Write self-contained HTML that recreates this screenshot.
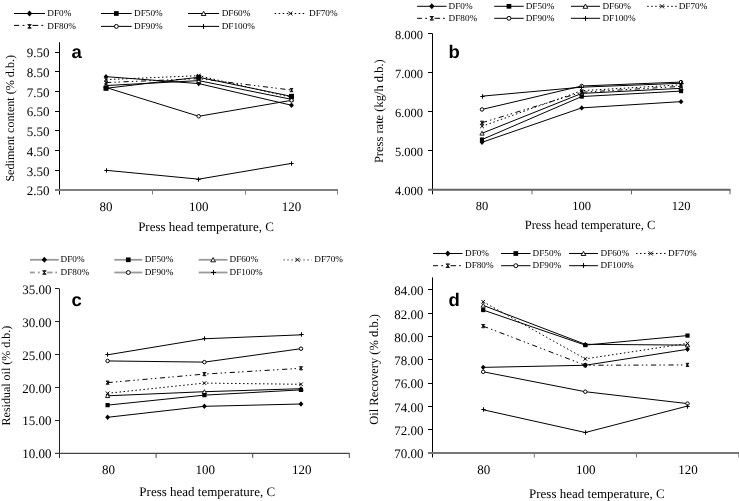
<!DOCTYPE html>
<html><head><meta charset="utf-8"><style>
html,body{margin:0;padding:0;background:#fff;overflow:hidden;}
svg{display:block;will-change:transform;} text{text-rendering:geometricPrecision;}
</style></head><body>
<svg width="739" height="501" viewBox="0 0 739 501">
<rect width="739" height="501" fill="#fff"/>
<line x1="59.50" y1="42.20" x2="59.50" y2="194.50" stroke="#000" stroke-width="1"/>
<line x1="55.00" y1="190.00" x2="338.00" y2="190.00" stroke="#808080" stroke-width="2"/>
<line x1="152.50" y1="190.00" x2="152.50" y2="194.50" stroke="#808080" stroke-width="1"/>
<line x1="245.50" y1="190.00" x2="245.50" y2="194.50" stroke="#808080" stroke-width="1"/>
<line x1="337.50" y1="190.00" x2="337.50" y2="194.50" stroke="#808080" stroke-width="1"/>
<text transform="translate(49.50,195.30) scale(1,1.0)" style="font-family:'Liberation Serif',serif;font-size:13px;font-weight:normal" text-anchor="end" fill="#000">2.50</text>
<line x1="55.00" y1="170.50" x2="59.50" y2="170.50" stroke="#000" stroke-width="1"/>
<text transform="translate(49.50,175.59) scale(1,1.0)" style="font-family:'Liberation Serif',serif;font-size:13px;font-weight:normal" text-anchor="end" fill="#000">3.50</text>
<line x1="55.00" y1="150.50" x2="59.50" y2="150.50" stroke="#000" stroke-width="1"/>
<text transform="translate(49.50,155.88) scale(1,1.0)" style="font-family:'Liberation Serif',serif;font-size:13px;font-weight:normal" text-anchor="end" fill="#000">4.50</text>
<line x1="55.00" y1="130.50" x2="59.50" y2="130.50" stroke="#000" stroke-width="1"/>
<text transform="translate(49.50,136.17) scale(1,1.0)" style="font-family:'Liberation Serif',serif;font-size:13px;font-weight:normal" text-anchor="end" fill="#000">5.50</text>
<line x1="55.00" y1="111.50" x2="59.50" y2="111.50" stroke="#000" stroke-width="1"/>
<text transform="translate(49.50,116.46) scale(1,1.0)" style="font-family:'Liberation Serif',serif;font-size:13px;font-weight:normal" text-anchor="end" fill="#000">6.50</text>
<line x1="55.00" y1="91.50" x2="59.50" y2="91.50" stroke="#000" stroke-width="1"/>
<text transform="translate(49.50,96.75) scale(1,1.0)" style="font-family:'Liberation Serif',serif;font-size:13px;font-weight:normal" text-anchor="end" fill="#000">7.50</text>
<line x1="55.00" y1="71.50" x2="59.50" y2="71.50" stroke="#000" stroke-width="1"/>
<text transform="translate(49.50,77.04) scale(1,1.0)" style="font-family:'Liberation Serif',serif;font-size:13px;font-weight:normal" text-anchor="end" fill="#000">8.50</text>
<line x1="55.00" y1="52.50" x2="59.50" y2="52.50" stroke="#000" stroke-width="1"/>
<text transform="translate(49.50,57.33) scale(1,1.0)" style="font-family:'Liberation Serif',serif;font-size:13px;font-weight:normal" text-anchor="end" fill="#000">9.50</text>
<text transform="translate(106.00,210.80) scale(1,1.0)" style="font-family:'Liberation Serif',serif;font-size:13px;font-weight:normal" text-anchor="middle" fill="#000">80</text>
<text transform="translate(198.70,210.80) scale(1,1.0)" style="font-family:'Liberation Serif',serif;font-size:13px;font-weight:normal" text-anchor="middle" fill="#000">100</text>
<text transform="translate(291.50,210.80) scale(1,1.0)" style="font-family:'Liberation Serif',serif;font-size:13px;font-weight:normal" text-anchor="middle" fill="#000">120</text>
<text transform="translate(206.00,231.00) scale(1,1.0)" style="font-family:'Liberation Serif',serif;font-size:13px;font-weight:normal" text-anchor="middle" fill="#000">Press head temperature, C</text>
<text transform="translate(13.80,118.30) scale(1,1.0) rotate(-90)" style="font-family:'Liberation Serif',serif;font-size:12.1px;font-weight:normal" text-anchor="middle" fill="#000">Sediment content (% d.b.)</text>
<text transform="translate(71.50,57.80) scale(1,0.98)" style="font-family:'Liberation Sans',sans-serif;font-size:18.5px;font-weight:bold" text-anchor="start" fill="#000">a</text>
<polyline points="106.00,76.67 198.70,83.57 291.50,105.25" fill="none" stroke="#000" stroke-width="1"/>
<polyline points="106.00,88.30 198.70,77.26 291.50,96.38" fill="none" stroke="#000" stroke-width="1"/>
<polyline points="106.00,85.54 198.70,80.61 291.50,99.33" fill="none" stroke="#000" stroke-width="1"/>
<polyline points="106.00,79.62 198.70,75.68 291.50,97.36" fill="none" stroke="#000" stroke-width="1" stroke-dasharray="1.5,2.5"/>
<polyline points="106.00,82.58 198.70,78.64 291.50,90.07" fill="none" stroke="#000" stroke-width="1" stroke-dasharray="5.2,3.2,1.4,2.7,1.4,3.6"/>
<polyline points="106.00,87.51 198.70,116.28 291.50,100.32" fill="none" stroke="#000" stroke-width="1"/>
<polyline points="106.00,170.29 198.70,179.16 291.50,163.39" fill="none" stroke="#000" stroke-width="1"/>
<path d="M106.00,73.97 L108.40,76.67 L106.00,79.37 L103.60,76.67 Z" fill="#000"/>
<path d="M198.70,80.87 L201.10,83.57 L198.70,86.27 L196.30,83.57 Z" fill="#000"/>
<path d="M291.50,102.55 L293.90,105.25 L291.50,107.95 L289.10,105.25 Z" fill="#000"/>
<path d="M106.00,83.54 L108.10,87.34 L103.90,87.34 Z" fill="#fff" stroke="#000" stroke-width="0.9"/>
<path d="M198.70,78.61 L200.80,82.41 L196.60,82.41 Z" fill="#fff" stroke="#000" stroke-width="0.9"/>
<path d="M291.50,97.33 L293.60,101.13 L289.40,101.13 Z" fill="#fff" stroke="#000" stroke-width="0.9"/>
<path d="M104.20,77.82 L107.80,81.42 M107.80,77.82 L104.20,81.42" stroke="#000" stroke-width="1" fill="none"/>
<path d="M196.90,73.88 L200.50,77.48 M200.50,73.88 L196.90,77.48" stroke="#000" stroke-width="1" fill="none"/>
<path d="M289.70,95.56 L293.30,99.16 M293.30,95.56 L289.70,99.16" stroke="#000" stroke-width="1" fill="none"/>
<path d="M104.40,80.98 L107.60,84.18 M107.60,80.98 L104.40,84.18 M106.00,80.98 L106.00,84.18 M104.40,80.98 L107.60,80.98 M104.40,84.18 L107.60,84.18" stroke="#000" stroke-width="0.9" fill="none"/>
<path d="M197.10,77.04 L200.30,80.24 M200.30,77.04 L197.10,80.24 M198.70,77.04 L198.70,80.24 M197.10,77.04 L200.30,77.04 M197.10,80.24 L200.30,80.24" stroke="#000" stroke-width="0.9" fill="none"/>
<path d="M289.90,88.47 L293.10,91.67 M293.10,88.47 L289.90,91.67 M291.50,88.47 L291.50,91.67 M289.90,88.47 L293.10,88.47 M289.90,91.67 L293.10,91.67" stroke="#000" stroke-width="0.9" fill="none"/>
<circle cx="106.00" cy="87.51" r="1.75" fill="#fff" stroke="#000" stroke-width="1"/>
<circle cx="198.70" cy="116.28" r="1.75" fill="#fff" stroke="#000" stroke-width="1"/>
<circle cx="291.50" cy="100.32" r="1.75" fill="#fff" stroke="#000" stroke-width="1"/>
<path d="M104.30,170.50 L108.70,170.50 M106.50,168.30 L106.50,172.70" stroke="#000" stroke-width="1" fill="none"/>
<path d="M196.30,179.50 L200.70,179.50 M198.50,177.30 L198.50,181.70" stroke="#000" stroke-width="1" fill="none"/>
<path d="M289.30,163.50 L293.70,163.50 M291.50,161.30 L291.50,165.70" stroke="#000" stroke-width="1" fill="none"/>
<rect x="103.48" y="85.78" width="5.04" height="5.04" fill="#000"/>
<rect x="196.18" y="74.74" width="5.04" height="5.04" fill="#000"/>
<rect x="288.98" y="93.86" width="5.04" height="5.04" fill="#000"/>
<line x1="14.00" y1="13.50" x2="45.00" y2="13.50" stroke="#000" stroke-width="1"/>
<path d="M29.50,10.48 L32.19,13.50 L29.50,16.52 L26.81,13.50 Z" fill="#000"/>
<text transform="translate(47.30,16.00) scale(1,1.0)" style="font-family:'Liberation Serif',serif;font-size:9.2px;font-weight:normal" text-anchor="start" fill="#000">DF0%</text>
<line x1="101.00" y1="13.50" x2="131.70" y2="13.50" stroke="#000" stroke-width="1"/>
<rect x="114.00" y="11.15" width="4.70" height="4.70" fill="#000"/>
<text transform="translate(134.10,16.00) scale(1,1.0)" style="font-family:'Liberation Serif',serif;font-size:9.2px;font-weight:normal" text-anchor="start" fill="#000">DF50%</text>
<line x1="188.10" y1="13.50" x2="219.10" y2="13.50" stroke="#000" stroke-width="1"/>
<path d="M203.60,11.26 L205.95,15.52 L201.25,15.52 Z" fill="#fff" stroke="#000" stroke-width="0.9"/>
<text transform="translate(221.70,16.00) scale(1,1.0)" style="font-family:'Liberation Serif',serif;font-size:9.2px;font-weight:normal" text-anchor="start" fill="#000">DF60%</text>
<line x1="274.70" y1="13.50" x2="305.90" y2="13.50" stroke="#000" stroke-width="1" stroke-dasharray="1.5,2.5"/>
<path d="M288.28,11.48 L292.32,15.52 M292.32,11.48 L288.28,15.52" stroke="#000" stroke-width="1" fill="none"/>
<text transform="translate(309.00,16.00) scale(1,1.0)" style="font-family:'Liberation Serif',serif;font-size:9.2px;font-weight:normal" text-anchor="start" fill="#000">DF70%</text>
<line x1="14.00" y1="25.40" x2="19.12" y2="25.40" stroke="#000" stroke-width="1"/>
<line x1="22.59" y1="25.40" x2="24.51" y2="25.40" stroke="#000" stroke-width="1"/>
<line x1="32.41" y1="25.40" x2="38.30" y2="25.40" stroke="#000" stroke-width="1"/>
<line x1="41.31" y1="25.40" x2="43.20" y2="25.40" stroke="#000" stroke-width="1"/>
<path d="M27.71,24.61 L31.29,28.19 M31.29,24.61 L27.71,28.19 M29.50,24.61 L29.50,28.19 M27.71,24.61 L31.29,24.61 M27.71,28.19 L31.29,28.19" stroke="#000" stroke-width="0.9" fill="none"/>
<text transform="translate(47.30,28.90) scale(1,1.0)" style="font-family:'Liberation Serif',serif;font-size:9.2px;font-weight:normal" text-anchor="start" fill="#000">DF80%</text>
<line x1="101.00" y1="26.40" x2="131.70" y2="26.40" stroke="#000" stroke-width="1"/>
<circle cx="116.35" cy="26.40" r="1.96" fill="#fff" stroke="#000" stroke-width="1"/>
<text transform="translate(134.10,28.90) scale(1,1.0)" style="font-family:'Liberation Serif',serif;font-size:9.2px;font-weight:normal" text-anchor="start" fill="#000">DF90%</text>
<line x1="188.10" y1="26.40" x2="219.10" y2="26.40" stroke="#000" stroke-width="1"/>
<path d="M201.04,26.50 L205.96,26.50 M203.50,24.04 L203.50,28.96" stroke="#000" stroke-width="1" fill="none"/>
<text transform="translate(221.70,28.90) scale(1,1.0)" style="font-family:'Liberation Serif',serif;font-size:9.2px;font-weight:normal" text-anchor="start" fill="#000">DF100%</text>
<line x1="432.50" y1="33.50" x2="432.50" y2="194.30" stroke="#000" stroke-width="1"/>
<line x1="428.00" y1="189.80" x2="730.50" y2="189.80" stroke="#666" stroke-width="2"/>
<line x1="532.00" y1="189.80" x2="532.00" y2="194.30" stroke="#666" stroke-width="1"/>
<line x1="631.50" y1="189.80" x2="631.50" y2="194.30" stroke="#666" stroke-width="1"/>
<line x1="730.00" y1="189.80" x2="730.00" y2="194.30" stroke="#666" stroke-width="1"/>
<text transform="translate(423.00,195.30) scale(1,1.0)" style="font-family:'Liberation Serif',serif;font-size:12.5px;font-weight:normal" text-anchor="end" fill="#000">4.000</text>
<line x1="428.00" y1="150.50" x2="432.50" y2="150.50" stroke="#000" stroke-width="1"/>
<text transform="translate(423.00,156.20) scale(1,1.0)" style="font-family:'Liberation Serif',serif;font-size:12.5px;font-weight:normal" text-anchor="end" fill="#000">5.000</text>
<line x1="428.00" y1="111.50" x2="432.50" y2="111.50" stroke="#000" stroke-width="1"/>
<text transform="translate(423.00,117.10) scale(1,1.0)" style="font-family:'Liberation Serif',serif;font-size:12.5px;font-weight:normal" text-anchor="end" fill="#000">6.000</text>
<line x1="428.00" y1="72.50" x2="432.50" y2="72.50" stroke="#000" stroke-width="1"/>
<text transform="translate(423.00,78.00) scale(1,1.0)" style="font-family:'Liberation Serif',serif;font-size:12.5px;font-weight:normal" text-anchor="end" fill="#000">7.000</text>
<line x1="428.00" y1="33.50" x2="432.50" y2="33.50" stroke="#000" stroke-width="1"/>
<text transform="translate(423.00,38.90) scale(1,1.0)" style="font-family:'Liberation Serif',serif;font-size:12.5px;font-weight:normal" text-anchor="end" fill="#000">8.000</text>
<text transform="translate(482.00,209.70) scale(1,1.0)" style="font-family:'Liberation Serif',serif;font-size:12.5px;font-weight:normal" text-anchor="middle" fill="#000">80</text>
<text transform="translate(581.70,209.70) scale(1,1.0)" style="font-family:'Liberation Serif',serif;font-size:12.5px;font-weight:normal" text-anchor="middle" fill="#000">100</text>
<text transform="translate(681.00,209.70) scale(1,1.0)" style="font-family:'Liberation Serif',serif;font-size:12.5px;font-weight:normal" text-anchor="middle" fill="#000">120</text>
<text transform="translate(590.00,229.00) scale(1,1.0)" style="font-family:'Liberation Serif',serif;font-size:12.5px;font-weight:normal" text-anchor="middle" fill="#000">Press head temperature, C</text>
<text transform="translate(383.20,111.20) scale(1,1.0) rotate(-90)" style="font-family:'Liberation Serif',serif;font-size:12.5px;font-weight:normal" text-anchor="middle" fill="#000">Press rate (kg/h d.b.)</text>
<text transform="translate(448.50,57.80) scale(1,0.98)" style="font-family:'Liberation Sans',sans-serif;font-size:18.5px;font-weight:bold" text-anchor="start" fill="#000">b</text>
<polyline points="482.00,142.30 581.70,107.89 681.00,101.63" fill="none" stroke="#000" stroke-width="1"/>
<polyline points="482.00,139.56 581.70,96.55 681.00,91.08" fill="none" stroke="#000" stroke-width="1"/>
<polyline points="482.00,133.31 581.70,93.42 681.00,88.34" fill="none" stroke="#000" stroke-width="1"/>
<polyline points="482.00,126.27 581.70,90.69 681.00,84.82" fill="none" stroke="#000" stroke-width="1" stroke-dasharray="1.5,2.5"/>
<polyline points="482.00,122.75 581.70,92.25 681.00,86.38" fill="none" stroke="#000" stroke-width="1" stroke-dasharray="5.2,3.2,1.4,2.7,1.4,3.6"/>
<polyline points="482.00,109.45 581.70,85.99 681.00,82.08" fill="none" stroke="#000" stroke-width="1"/>
<polyline points="482.00,96.16 581.70,87.17 681.00,83.26" fill="none" stroke="#000" stroke-width="1"/>
<path d="M482.00,139.60 L484.40,142.30 L482.00,145.00 L479.60,142.30 Z" fill="#000"/>
<path d="M581.70,105.19 L584.10,107.89 L581.70,110.59 L579.30,107.89 Z" fill="#000"/>
<path d="M681.00,98.93 L683.40,101.63 L681.00,104.33 L678.60,101.63 Z" fill="#000"/>
<path d="M482.00,131.31 L484.10,135.11 L479.90,135.11 Z" fill="#fff" stroke="#000" stroke-width="0.9"/>
<path d="M581.70,91.42 L583.80,95.22 L579.60,95.22 Z" fill="#fff" stroke="#000" stroke-width="0.9"/>
<path d="M681.00,86.34 L683.10,90.14 L678.90,90.14 Z" fill="#fff" stroke="#000" stroke-width="0.9"/>
<path d="M480.20,124.47 L483.80,128.07 M483.80,124.47 L480.20,128.07" stroke="#000" stroke-width="1" fill="none"/>
<path d="M579.90,88.89 L583.50,92.49 M583.50,88.89 L579.90,92.49" stroke="#000" stroke-width="1" fill="none"/>
<path d="M679.20,83.02 L682.80,86.62 M682.80,83.02 L679.20,86.62" stroke="#000" stroke-width="1" fill="none"/>
<path d="M480.40,121.15 L483.60,124.35 M483.60,121.15 L480.40,124.35 M482.00,121.15 L482.00,124.35 M480.40,121.15 L483.60,121.15 M480.40,124.35 L483.60,124.35" stroke="#000" stroke-width="0.9" fill="none"/>
<path d="M580.10,90.65 L583.30,93.85 M583.30,90.65 L580.10,93.85 M581.70,90.65 L581.70,93.85 M580.10,90.65 L583.30,90.65 M580.10,93.85 L583.30,93.85" stroke="#000" stroke-width="0.9" fill="none"/>
<path d="M679.40,84.78 L682.60,87.98 M682.60,84.78 L679.40,87.98 M681.00,84.78 L681.00,87.98 M679.40,84.78 L682.60,84.78 M679.40,87.98 L682.60,87.98" stroke="#000" stroke-width="0.9" fill="none"/>
<circle cx="482.00" cy="109.45" r="1.75" fill="#fff" stroke="#000" stroke-width="1"/>
<circle cx="581.70" cy="85.99" r="1.75" fill="#fff" stroke="#000" stroke-width="1"/>
<circle cx="681.00" cy="82.08" r="1.75" fill="#fff" stroke="#000" stroke-width="1"/>
<path d="M480.30,96.50 L484.70,96.50 M482.50,94.30 L482.50,98.70" stroke="#000" stroke-width="1" fill="none"/>
<path d="M579.30,87.50 L583.70,87.50 M581.50,85.30 L581.50,89.70" stroke="#000" stroke-width="1" fill="none"/>
<path d="M679.30,83.50 L683.70,83.50 M681.50,81.30 L681.50,85.70" stroke="#000" stroke-width="1" fill="none"/>
<rect x="479.90" y="137.46" width="4.20" height="4.20" fill="#000"/>
<rect x="579.60" y="94.45" width="4.20" height="4.20" fill="#000"/>
<rect x="678.90" y="88.98" width="4.20" height="4.20" fill="#000"/>
<line x1="417.10" y1="6.30" x2="446.50" y2="6.30" stroke="#000" stroke-width="1"/>
<path d="M431.80,3.28 L434.49,6.30 L431.80,9.32 L429.11,6.30 Z" fill="#000"/>
<text transform="translate(448.60,8.80) scale(1,1.0)" style="font-family:'Liberation Serif',serif;font-size:9.2px;font-weight:normal" text-anchor="start" fill="#000">DF0%</text>
<line x1="494.20" y1="6.30" x2="523.70" y2="6.30" stroke="#000" stroke-width="1"/>
<rect x="506.60" y="3.95" width="4.70" height="4.70" fill="#000"/>
<text transform="translate(525.70,8.80) scale(1,1.0)" style="font-family:'Liberation Serif',serif;font-size:9.2px;font-weight:normal" text-anchor="start" fill="#000">DF50%</text>
<line x1="570.90" y1="6.30" x2="600.00" y2="6.30" stroke="#000" stroke-width="1"/>
<path d="M585.45,4.06 L587.80,8.32 L583.10,8.32 Z" fill="#fff" stroke="#000" stroke-width="0.9"/>
<text transform="translate(602.40,8.80) scale(1,1.0)" style="font-family:'Liberation Serif',serif;font-size:9.2px;font-weight:normal" text-anchor="start" fill="#000">DF60%</text>
<line x1="647.20" y1="6.30" x2="676.80" y2="6.30" stroke="#000" stroke-width="1" stroke-dasharray="1.5,2.5"/>
<path d="M659.98,4.28 L664.02,8.32 M664.02,4.28 L659.98,8.32" stroke="#000" stroke-width="1" fill="none"/>
<text transform="translate(678.70,8.80) scale(1,1.0)" style="font-family:'Liberation Serif',serif;font-size:9.2px;font-weight:normal" text-anchor="start" fill="#000">DF70%</text>
<line x1="417.10" y1="18.30" x2="421.95" y2="18.30" stroke="#000" stroke-width="1"/>
<line x1="425.24" y1="18.30" x2="427.07" y2="18.30" stroke="#000" stroke-width="1"/>
<line x1="434.56" y1="18.30" x2="440.15" y2="18.30" stroke="#000" stroke-width="1"/>
<line x1="443.00" y1="18.30" x2="444.79" y2="18.30" stroke="#000" stroke-width="1"/>
<path d="M430.01,16.51 L433.59,20.09 M433.59,16.51 L430.01,20.09 M431.80,16.51 L431.80,20.09 M430.01,16.51 L433.59,16.51 M430.01,20.09 L433.59,20.09" stroke="#000" stroke-width="0.9" fill="none"/>
<text transform="translate(448.60,20.80) scale(1,1.0)" style="font-family:'Liberation Serif',serif;font-size:9.2px;font-weight:normal" text-anchor="start" fill="#000">DF80%</text>
<line x1="494.20" y1="18.30" x2="523.70" y2="18.30" stroke="#000" stroke-width="1"/>
<circle cx="508.95" cy="18.30" r="1.96" fill="#fff" stroke="#000" stroke-width="1"/>
<text transform="translate(525.70,20.80) scale(1,1.0)" style="font-family:'Liberation Serif',serif;font-size:9.2px;font-weight:normal" text-anchor="start" fill="#000">DF90%</text>
<line x1="570.90" y1="18.30" x2="600.00" y2="18.30" stroke="#000" stroke-width="1"/>
<path d="M583.04,18.50 L587.96,18.50 M585.50,16.04 L585.50,20.96" stroke="#000" stroke-width="1" fill="none"/>
<text transform="translate(602.40,20.80) scale(1,1.0)" style="font-family:'Liberation Serif',serif;font-size:9.2px;font-weight:normal" text-anchor="start" fill="#000">DF100%</text>
<line x1="59.50" y1="288.80" x2="59.50" y2="457.90" stroke="#222" stroke-width="1"/>
<line x1="55.00" y1="453.40" x2="349.50" y2="453.40" stroke="#444" stroke-width="1.3"/>
<line x1="156.10" y1="453.40" x2="156.10" y2="457.90" stroke="#444" stroke-width="1"/>
<line x1="252.70" y1="453.40" x2="252.70" y2="457.90" stroke="#444" stroke-width="1"/>
<line x1="349.30" y1="453.40" x2="349.30" y2="457.90" stroke="#444" stroke-width="1"/>
<text transform="translate(51.50,458.30) scale(1,1.0)" style="font-family:'Liberation Serif',serif;font-size:13px;font-weight:normal" text-anchor="end" fill="#000">10.00</text>
<line x1="55.00" y1="420.50" x2="59.50" y2="420.50" stroke="#222" stroke-width="1"/>
<text transform="translate(51.50,425.42) scale(1,1.0)" style="font-family:'Liberation Serif',serif;font-size:13px;font-weight:normal" text-anchor="end" fill="#000">15.00</text>
<line x1="55.00" y1="387.50" x2="59.50" y2="387.50" stroke="#222" stroke-width="1"/>
<text transform="translate(51.50,392.54) scale(1,1.0)" style="font-family:'Liberation Serif',serif;font-size:13px;font-weight:normal" text-anchor="end" fill="#000">20.00</text>
<line x1="55.00" y1="354.50" x2="59.50" y2="354.50" stroke="#222" stroke-width="1"/>
<text transform="translate(51.50,359.66) scale(1,1.0)" style="font-family:'Liberation Serif',serif;font-size:13px;font-weight:normal" text-anchor="end" fill="#000">25.00</text>
<line x1="55.00" y1="321.50" x2="59.50" y2="321.50" stroke="#222" stroke-width="1"/>
<text transform="translate(51.50,326.78) scale(1,1.0)" style="font-family:'Liberation Serif',serif;font-size:13px;font-weight:normal" text-anchor="end" fill="#000">30.00</text>
<line x1="55.00" y1="288.50" x2="59.50" y2="288.50" stroke="#222" stroke-width="1"/>
<text transform="translate(51.50,293.90) scale(1,1.0)" style="font-family:'Liberation Serif',serif;font-size:13px;font-weight:normal" text-anchor="end" fill="#000">35.00</text>
<text transform="translate(108.40,473.80) scale(1,1.0)" style="font-family:'Liberation Serif',serif;font-size:13px;font-weight:normal" text-anchor="middle" fill="#000">80</text>
<text transform="translate(205.20,473.80) scale(1,1.0)" style="font-family:'Liberation Serif',serif;font-size:13px;font-weight:normal" text-anchor="middle" fill="#000">100</text>
<text transform="translate(301.80,473.80) scale(1,1.0)" style="font-family:'Liberation Serif',serif;font-size:13px;font-weight:normal" text-anchor="middle" fill="#000">120</text>
<text transform="translate(207.20,495.80) scale(1,1.0)" style="font-family:'Liberation Serif',serif;font-size:13px;font-weight:normal" text-anchor="middle" fill="#000">Press head temperature, C</text>
<text transform="translate(10.40,375.60) scale(1,1.0) rotate(-90)" style="font-family:'Liberation Serif',serif;font-size:12.0px;font-weight:normal" text-anchor="middle" fill="#000">Residual oil (% d.b.)</text>
<text transform="translate(71.50,305.90) scale(1,0.98)" style="font-family:'Liberation Sans',sans-serif;font-size:18.5px;font-weight:bold" text-anchor="start" fill="#000">c</text>
<polyline points="107.60,417.29 204.40,406.31 301.00,404.01" fill="none" stroke="#000" stroke-width="1"/>
<polyline points="107.60,405.13 204.40,395.13 301.00,389.87" fill="none" stroke="#000" stroke-width="1"/>
<polyline points="107.60,395.79 204.40,391.71 301.00,388.69" fill="none" stroke="#000" stroke-width="1"/>
<polyline points="107.60,393.29 204.40,383.10 301.00,384.28" fill="none" stroke="#000" stroke-width="1" stroke-dasharray="1.5,2.5"/>
<polyline points="107.60,382.64 204.40,374.09 301.00,368.30" fill="none" stroke="#000" stroke-width="1" stroke-dasharray="5.2,3.2,1.4,2.7,1.4,3.6"/>
<polyline points="107.60,360.94 204.40,362.12 301.00,348.70" fill="none" stroke="#000" stroke-width="1"/>
<polyline points="107.60,354.82 204.40,338.77 301.00,334.83" fill="none" stroke="#000" stroke-width="1"/>
<path d="M107.60,414.59 L110.00,417.29 L107.60,419.99 L105.20,417.29 Z" fill="#000"/>
<path d="M204.40,403.61 L206.80,406.31 L204.40,409.01 L202.00,406.31 Z" fill="#000"/>
<path d="M301.00,401.31 L303.40,404.01 L301.00,406.71 L298.60,404.01 Z" fill="#000"/>
<path d="M107.60,393.79 L109.70,397.59 L105.50,397.59 Z" fill="#fff" stroke="#000" stroke-width="0.9"/>
<path d="M204.40,389.71 L206.50,393.51 L202.30,393.51 Z" fill="#fff" stroke="#000" stroke-width="0.9"/>
<path d="M301.00,386.69 L303.10,390.49 L298.90,390.49 Z" fill="#fff" stroke="#000" stroke-width="0.9"/>
<path d="M105.80,391.49 L109.40,395.09 M109.40,391.49 L105.80,395.09" stroke="#000" stroke-width="1" fill="none"/>
<path d="M202.60,381.30 L206.20,384.90 M206.20,381.30 L202.60,384.90" stroke="#000" stroke-width="1" fill="none"/>
<path d="M299.20,382.48 L302.80,386.08 M302.80,382.48 L299.20,386.08" stroke="#000" stroke-width="1" fill="none"/>
<path d="M106.00,381.04 L109.20,384.24 M109.20,381.04 L106.00,384.24 M107.60,381.04 L107.60,384.24 M106.00,381.04 L109.20,381.04 M106.00,384.24 L109.20,384.24" stroke="#000" stroke-width="0.9" fill="none"/>
<path d="M202.80,372.49 L206.00,375.69 M206.00,372.49 L202.80,375.69 M204.40,372.49 L204.40,375.69 M202.80,372.49 L206.00,372.49 M202.80,375.69 L206.00,375.69" stroke="#000" stroke-width="0.9" fill="none"/>
<path d="M299.40,366.70 L302.60,369.90 M302.60,366.70 L299.40,369.90 M301.00,366.70 L301.00,369.90 M299.40,366.70 L302.60,366.70 M299.40,369.90 L302.60,369.90" stroke="#000" stroke-width="0.9" fill="none"/>
<circle cx="107.60" cy="360.94" r="1.75" fill="#fff" stroke="#000" stroke-width="1"/>
<circle cx="204.40" cy="362.12" r="1.75" fill="#fff" stroke="#000" stroke-width="1"/>
<circle cx="301.00" cy="348.70" r="1.75" fill="#fff" stroke="#000" stroke-width="1"/>
<path d="M105.30,354.50 L109.70,354.50 M107.50,352.30 L107.50,356.70" stroke="#000" stroke-width="1" fill="none"/>
<path d="M202.30,338.50 L206.70,338.50 M204.50,336.30 L204.50,340.70" stroke="#000" stroke-width="1" fill="none"/>
<path d="M299.30,334.50 L303.70,334.50 M301.50,332.30 L301.50,336.70" stroke="#000" stroke-width="1" fill="none"/>
<rect x="105.50" y="403.03" width="4.20" height="4.20" fill="#000"/>
<rect x="202.30" y="393.03" width="4.20" height="4.20" fill="#000"/>
<rect x="298.90" y="387.77" width="4.20" height="4.20" fill="#000"/>
<line x1="30.00" y1="259.80" x2="58.70" y2="259.80" stroke="#999" stroke-width="1.8"/>
<path d="M44.35,256.78 L47.04,259.80 L44.35,262.82 L41.66,259.80 Z" fill="#000"/>
<text transform="translate(60.60,262.30) scale(1,1.0)" style="font-family:'Liberation Serif',serif;font-size:9.2px;font-weight:normal" text-anchor="start" fill="#000">DF0%</text>
<line x1="114.30" y1="259.80" x2="142.30" y2="259.80" stroke="#999" stroke-width="1.8"/>
<rect x="125.95" y="257.45" width="4.70" height="4.70" fill="#000"/>
<text transform="translate(144.70,262.30) scale(1,1.0)" style="font-family:'Liberation Serif',serif;font-size:9.2px;font-weight:normal" text-anchor="start" fill="#000">DF50%</text>
<line x1="198.70" y1="259.80" x2="227.50" y2="259.80" stroke="#999" stroke-width="1.8"/>
<path d="M213.10,257.56 L215.45,261.82 L210.75,261.82 Z" fill="#fff" stroke="#000" stroke-width="0.9"/>
<text transform="translate(229.50,262.30) scale(1,1.0)" style="font-family:'Liberation Serif',serif;font-size:9.2px;font-weight:normal" text-anchor="start" fill="#000">DF60%</text>
<line x1="283.30" y1="259.80" x2="311.70" y2="259.80" stroke="#999" stroke-width="1.8" stroke-dasharray="1.5,2.5"/>
<path d="M295.48,257.78 L299.52,261.82 M299.52,257.78 L295.48,261.82" stroke="#000" stroke-width="1" fill="none"/>
<text transform="translate(314.30,262.30) scale(1,1.0)" style="font-family:'Liberation Serif',serif;font-size:9.2px;font-weight:normal" text-anchor="start" fill="#000">DF70%</text>
<line x1="30.00" y1="272.50" x2="34.74" y2="272.50" stroke="#999" stroke-width="1.8"/>
<line x1="37.95" y1="272.50" x2="39.73" y2="272.50" stroke="#999" stroke-width="1.8"/>
<line x1="47.05" y1="272.50" x2="52.50" y2="272.50" stroke="#999" stroke-width="1.8"/>
<line x1="55.28" y1="272.50" x2="57.04" y2="272.50" stroke="#999" stroke-width="1.8"/>
<path d="M42.56,270.71 L46.14,274.29 M46.14,270.71 L42.56,274.29 M44.35,270.71 L44.35,274.29 M42.56,270.71 L46.14,270.71 M42.56,274.29 L46.14,274.29" stroke="#000" stroke-width="0.9" fill="none"/>
<text transform="translate(60.60,275.00) scale(1,1.0)" style="font-family:'Liberation Serif',serif;font-size:9.2px;font-weight:normal" text-anchor="start" fill="#000">DF80%</text>
<line x1="114.30" y1="272.50" x2="142.30" y2="272.50" stroke="#999" stroke-width="1.8"/>
<circle cx="128.30" cy="272.50" r="1.96" fill="#fff" stroke="#000" stroke-width="1"/>
<text transform="translate(144.70,275.00) scale(1,1.0)" style="font-family:'Liberation Serif',serif;font-size:9.2px;font-weight:normal" text-anchor="start" fill="#000">DF90%</text>
<line x1="198.70" y1="272.50" x2="227.50" y2="272.50" stroke="#999" stroke-width="1.8"/>
<path d="M211.04,272.50 L215.96,272.50 M213.50,270.04 L213.50,274.96" stroke="#000" stroke-width="1" fill="none"/>
<text transform="translate(229.50,275.00) scale(1,1.0)" style="font-family:'Liberation Serif',serif;font-size:9.2px;font-weight:normal" text-anchor="start" fill="#000">DF100%</text>
<line x1="432.50" y1="277.40" x2="432.50" y2="457.50" stroke="#000" stroke-width="1"/>
<line x1="428.00" y1="453.00" x2="739.00" y2="453.00" stroke="#777" stroke-width="2"/>
<line x1="534.30" y1="453.00" x2="534.30" y2="457.50" stroke="#777" stroke-width="1"/>
<line x1="636.50" y1="453.00" x2="636.50" y2="457.50" stroke="#777" stroke-width="1"/>
<line x1="738.80" y1="453.00" x2="738.80" y2="457.50" stroke="#777" stroke-width="1"/>
<text transform="translate(423.50,458.30) scale(1,1.0)" style="font-family:'Liberation Serif',serif;font-size:13px;font-weight:normal" text-anchor="end" fill="#000">70.00</text>
<line x1="428.00" y1="429.50" x2="432.50" y2="429.50" stroke="#000" stroke-width="1"/>
<text transform="translate(423.50,435.00) scale(1,1.0)" style="font-family:'Liberation Serif',serif;font-size:13px;font-weight:normal" text-anchor="end" fill="#000">72.00</text>
<line x1="428.00" y1="406.50" x2="432.50" y2="406.50" stroke="#000" stroke-width="1"/>
<text transform="translate(423.50,411.70) scale(1,1.0)" style="font-family:'Liberation Serif',serif;font-size:13px;font-weight:normal" text-anchor="end" fill="#000">74.00</text>
<line x1="428.00" y1="383.50" x2="432.50" y2="383.50" stroke="#000" stroke-width="1"/>
<text transform="translate(423.50,388.40) scale(1,1.0)" style="font-family:'Liberation Serif',serif;font-size:13px;font-weight:normal" text-anchor="end" fill="#000">76.00</text>
<line x1="428.00" y1="359.50" x2="432.50" y2="359.50" stroke="#000" stroke-width="1"/>
<text transform="translate(423.50,365.10) scale(1,1.0)" style="font-family:'Liberation Serif',serif;font-size:13px;font-weight:normal" text-anchor="end" fill="#000">78.00</text>
<line x1="428.00" y1="336.50" x2="432.50" y2="336.50" stroke="#000" stroke-width="1"/>
<text transform="translate(423.50,341.80) scale(1,1.0)" style="font-family:'Liberation Serif',serif;font-size:13px;font-weight:normal" text-anchor="end" fill="#000">80.00</text>
<line x1="428.00" y1="313.50" x2="432.50" y2="313.50" stroke="#000" stroke-width="1"/>
<text transform="translate(423.50,318.50) scale(1,1.0)" style="font-family:'Liberation Serif',serif;font-size:13px;font-weight:normal" text-anchor="end" fill="#000">82.00</text>
<line x1="428.00" y1="289.50" x2="432.50" y2="289.50" stroke="#000" stroke-width="1"/>
<text transform="translate(423.50,295.20) scale(1,1.0)" style="font-family:'Liberation Serif',serif;font-size:13px;font-weight:normal" text-anchor="end" fill="#000">84.00</text>
<text transform="translate(483.70,474.30) scale(1,1.0)" style="font-family:'Liberation Serif',serif;font-size:13px;font-weight:normal" text-anchor="middle" fill="#000">80</text>
<text transform="translate(585.80,474.30) scale(1,1.0)" style="font-family:'Liberation Serif',serif;font-size:13px;font-weight:normal" text-anchor="middle" fill="#000">100</text>
<text transform="translate(688.00,474.30) scale(1,1.0)" style="font-family:'Liberation Serif',serif;font-size:13px;font-weight:normal" text-anchor="middle" fill="#000">120</text>
<text transform="translate(596.90,497.80) scale(1,1.0)" style="font-family:'Liberation Serif',serif;font-size:13px;font-weight:normal" text-anchor="middle" fill="#000">Press head temperature, C</text>
<text transform="translate(378.20,369.40) scale(1,1.0) rotate(-90)" style="font-family:'Liberation Serif',serif;font-size:12.5px;font-weight:normal" text-anchor="middle" fill="#000">Oil Recovery (% d.b.)</text>
<text transform="translate(448.50,305.60) scale(1,0.98)" style="font-family:'Liberation Sans',sans-serif;font-size:18.5px;font-weight:bold" text-anchor="start" fill="#000">d</text>
<polyline points="483.20,367.37 585.30,365.28 687.50,349.31" fill="none" stroke="#000" stroke-width="1"/>
<polyline points="483.20,310.05 585.30,345.12 687.50,335.57" fill="none" stroke="#000" stroke-width="1"/>
<polyline points="483.20,305.39 585.30,344.31 687.50,345.12" fill="none" stroke="#000" stroke-width="1"/>
<polyline points="483.20,301.78 585.30,358.87 687.50,343.37" fill="none" stroke="#000" stroke-width="1" stroke-dasharray="1.5,2.5"/>
<polyline points="483.20,326.13 585.30,365.28 687.50,364.93" fill="none" stroke="#000" stroke-width="1" stroke-dasharray="5.2,3.2,1.4,2.7,1.4,3.6"/>
<polyline points="483.20,371.80 585.30,391.72 687.50,403.60" fill="none" stroke="#000" stroke-width="1"/>
<polyline points="483.20,409.78 585.30,432.50 687.50,406.05" fill="none" stroke="#000" stroke-width="1"/>
<path d="M483.20,364.67 L485.60,367.37 L483.20,370.07 L480.80,367.37 Z" fill="#000"/>
<path d="M585.30,362.58 L587.70,365.28 L585.30,367.98 L582.90,365.28 Z" fill="#000"/>
<path d="M687.50,346.61 L689.90,349.31 L687.50,352.01 L685.10,349.31 Z" fill="#000"/>
<path d="M483.20,303.39 L485.30,307.19 L481.10,307.19 Z" fill="#fff" stroke="#000" stroke-width="0.9"/>
<path d="M585.30,342.31 L587.40,346.11 L583.20,346.11 Z" fill="#fff" stroke="#000" stroke-width="0.9"/>
<path d="M687.50,343.12 L689.60,346.92 L685.40,346.92 Z" fill="#fff" stroke="#000" stroke-width="0.9"/>
<path d="M481.40,299.98 L485.00,303.58 M485.00,299.98 L481.40,303.58" stroke="#000" stroke-width="1" fill="none"/>
<path d="M583.50,357.07 L587.10,360.67 M587.10,357.07 L583.50,360.67" stroke="#000" stroke-width="1" fill="none"/>
<path d="M685.70,341.57 L689.30,345.17 M689.30,341.57 L685.70,345.17" stroke="#000" stroke-width="1" fill="none"/>
<path d="M481.60,324.53 L484.80,327.73 M484.80,324.53 L481.60,327.73 M483.20,324.53 L483.20,327.73 M481.60,324.53 L484.80,324.53 M481.60,327.73 L484.80,327.73" stroke="#000" stroke-width="0.9" fill="none"/>
<path d="M583.70,363.68 L586.90,366.88 M586.90,363.68 L583.70,366.88 M585.30,363.68 L585.30,366.88 M583.70,363.68 L586.90,363.68 M583.70,366.88 L586.90,366.88" stroke="#000" stroke-width="0.9" fill="none"/>
<path d="M685.90,363.33 L689.10,366.53 M689.10,363.33 L685.90,366.53 M687.50,363.33 L687.50,366.53 M685.90,363.33 L689.10,363.33 M685.90,366.53 L689.10,366.53" stroke="#000" stroke-width="0.9" fill="none"/>
<circle cx="483.20" cy="371.80" r="1.75" fill="#fff" stroke="#000" stroke-width="1"/>
<circle cx="585.30" cy="391.72" r="1.75" fill="#fff" stroke="#000" stroke-width="1"/>
<circle cx="687.50" cy="403.60" r="1.75" fill="#fff" stroke="#000" stroke-width="1"/>
<path d="M481.30,409.50 L485.70,409.50 M483.50,407.30 L483.50,411.70" stroke="#000" stroke-width="1" fill="none"/>
<path d="M583.30,432.50 L587.70,432.50 M585.50,430.30 L585.50,434.70" stroke="#000" stroke-width="1" fill="none"/>
<path d="M685.30,406.50 L689.70,406.50 M687.50,404.30 L687.50,408.70" stroke="#000" stroke-width="1" fill="none"/>
<rect x="481.10" y="307.95" width="4.20" height="4.20" fill="#000"/>
<rect x="583.20" y="343.02" width="4.20" height="4.20" fill="#000"/>
<rect x="685.40" y="333.47" width="4.20" height="4.20" fill="#000"/>
<line x1="433.10" y1="253.50" x2="462.50" y2="253.50" stroke="#000" stroke-width="1"/>
<path d="M447.80,250.48 L450.49,253.50 L447.80,256.52 L445.11,253.50 Z" fill="#000"/>
<text transform="translate(465.00,256.00) scale(1,1.0)" style="font-family:'Liberation Serif',serif;font-size:9.2px;font-weight:normal" text-anchor="start" fill="#000">DF0%</text>
<line x1="501.10" y1="253.50" x2="530.50" y2="253.50" stroke="#000" stroke-width="1"/>
<rect x="513.45" y="251.15" width="4.70" height="4.70" fill="#000"/>
<text transform="translate(532.60,256.00) scale(1,1.0)" style="font-family:'Liberation Serif',serif;font-size:9.2px;font-weight:normal" text-anchor="start" fill="#000">DF50%</text>
<line x1="569.10" y1="253.50" x2="597.90" y2="253.50" stroke="#000" stroke-width="1"/>
<path d="M583.50,251.26 L585.85,255.52 L581.15,255.52 Z" fill="#fff" stroke="#000" stroke-width="0.9"/>
<text transform="translate(600.50,256.00) scale(1,1.0)" style="font-family:'Liberation Serif',serif;font-size:9.2px;font-weight:normal" text-anchor="start" fill="#000">DF60%</text>
<line x1="636.00" y1="253.50" x2="665.50" y2="253.50" stroke="#000" stroke-width="1" stroke-dasharray="1.5,2.5"/>
<path d="M648.73,251.48 L652.77,255.52 M652.77,251.48 L648.73,255.52" stroke="#000" stroke-width="1" fill="none"/>
<text transform="translate(668.10,256.00) scale(1,1.0)" style="font-family:'Liberation Serif',serif;font-size:9.2px;font-weight:normal" text-anchor="start" fill="#000">DF70%</text>
<line x1="433.10" y1="265.70" x2="437.95" y2="265.70" stroke="#000" stroke-width="1"/>
<line x1="441.24" y1="265.70" x2="443.07" y2="265.70" stroke="#000" stroke-width="1"/>
<line x1="450.56" y1="265.70" x2="456.15" y2="265.70" stroke="#000" stroke-width="1"/>
<line x1="459.00" y1="265.70" x2="460.79" y2="265.70" stroke="#000" stroke-width="1"/>
<path d="M446.01,263.91 L449.59,267.49 M449.59,263.91 L446.01,267.49 M447.80,263.91 L447.80,267.49 M446.01,263.91 L449.59,263.91 M446.01,267.49 L449.59,267.49" stroke="#000" stroke-width="0.9" fill="none"/>
<text transform="translate(465.00,268.20) scale(1,1.0)" style="font-family:'Liberation Serif',serif;font-size:9.2px;font-weight:normal" text-anchor="start" fill="#000">DF80%</text>
<line x1="501.10" y1="265.70" x2="530.50" y2="265.70" stroke="#000" stroke-width="1"/>
<circle cx="515.80" cy="265.70" r="1.96" fill="#fff" stroke="#000" stroke-width="1"/>
<text transform="translate(532.60,268.20) scale(1,1.0)" style="font-family:'Liberation Serif',serif;font-size:9.2px;font-weight:normal" text-anchor="start" fill="#000">DF90%</text>
<line x1="569.10" y1="265.70" x2="597.90" y2="265.70" stroke="#000" stroke-width="1"/>
<path d="M581.04,265.50 L585.96,265.50 M583.50,263.04 L583.50,267.96" stroke="#000" stroke-width="1" fill="none"/>
<text transform="translate(600.50,268.20) scale(1,1.0)" style="font-family:'Liberation Serif',serif;font-size:9.2px;font-weight:normal" text-anchor="start" fill="#000">DF100%</text>
</svg></body></html>
